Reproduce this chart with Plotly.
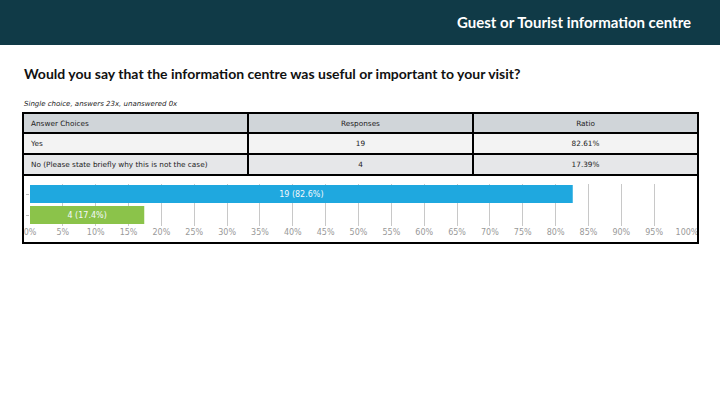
import plotly.graph_objects as go

W, H = 720, 405

header_title = "Guest or Tourist information centre"
question = "Would you say that the information centre was useful or important to your visit?"
subtitle = "Single choice, answers 23x, unanswered 0x"

col_headers = ["Answer Choices", "Responses", "Ratio"]
choices = ["Yes", "No (Please state briefly why this is not the case)"]
responses = [19, 4]
ratios = [82.61, 17.39]
bar_colors = ["#1fa8df", "#8bc34a"]
tick_vals = list(range(0, 101, 5))


def px_x(v):
    return v / W


def px_y(v):
    return 1 - v / H


fig = go.Figure()

# Table
fig.add_trace(go.Table(
    domain=dict(x=[px_x(23), px_x(698)], y=[px_y(177), px_y(113)]),
    columnwidth=[1, 1, 1],
    header=dict(
        values=col_headers,
        fill_color="#d0d5d9",
        line=dict(color="#000000", width=2),
        align=["left", "center", "center"],
        font=dict(family="DejaVu Sans", size=7.3, color="#222222"),
        height=20,
    ),
    cells=dict(
        values=[choices, [str(r) for r in responses], [f"{r:.2f}%" for r in ratios]],
        fill_color=[["#f3f3f3", "#e6e7e9"]] * 3,
        line=dict(color="#000000", width=2),
        align=["left", "center", "center"],
        font=dict(family="DejaVu Sans", size=7.3, color="#222222"),
        height=21,
    ),
))

# Bars
labels = [f"{n} ({r:.1f}%)" for n, r in zip(responses, ratios)]
fig.add_trace(go.Bar(
    y=choices,
    x=ratios,
    orientation="h",
    marker=dict(color=bar_colors, line=dict(width=0)),
    text=labels,
    textposition="inside",
    insidetextanchor="middle",
    textfont=dict(family="DejaVu Sans", size=8, color="#f4f8fb"),
    hoverinfo="skip",
))

fig.update_layout(
    width=W, height=H,
    autosize=False,
    margin=dict(l=0, r=0, t=0, b=0, pad=0),
    paper_bgcolor="#ffffff",
    plot_bgcolor="#ffffff",
    showlegend=False,
    bargap=0.143,
    xaxis=dict(
        domain=[px_x(30), px_x(687)],
        range=[0, 100],
        tickvals=tick_vals,
        ticktext=[f"{v}%" for v in tick_vals],
        showgrid=True, gridcolor="#c8c8c8", gridwidth=1,
        zeroline=False, showline=False, automargin=False,
        ticks="", tickfont=dict(family="DejaVu Sans", size=8, color="#999999"),
        fixedrange=True,
    ),
    yaxis=dict(
        domain=[px_y(225.5), px_y(183.5)],
        autorange="reversed",
        showticklabels=False, automargin=False,
        ticks="outside", ticklen=3, tickcolor="#bbbbbb",
        showgrid=False, zeroline=False, showline=False,
        fixedrange=True,
    ),
    shapes=[
        dict(type="rect", xref="paper", yref="paper",
             x0=0, x1=1, y0=px_y(45), y1=1,
             fillcolor="#103a47", line=dict(width=0), layer="below"),
        dict(type="rect", xref="paper", yref="paper",
             x0=px_x(23), x1=px_x(698), y0=px_y(243), y1=px_y(175),
             line=dict(color="#000000", width=2), fillcolor="rgba(0,0,0,0)"),
    ],
    annotations=[
        dict(text=f"<b>{header_title}</b>", xref="paper", yref="paper",
             x=px_x(693), y=px_y(22), xanchor="right", yanchor="middle",
             showarrow=False, font=dict(family="Lato", size=15, color="#ffffff")),
        dict(text=f"<b>{question}</b>", xref="paper", yref="paper",
             x=px_x(22), y=px_y(73), xanchor="left", yanchor="middle",
             showarrow=False, font=dict(family="Lato", size=14, color="#111111")),
        dict(text=f"<i>{subtitle}</i>", xref="paper", yref="paper",
             x=px_x(22), y=px_y(104), xanchor="left", yanchor="middle",
             showarrow=False, font=dict(family="DejaVu Sans", size=7, color="#222222")),
    ],
)

fig.write_html(
    "out.html",
    config={"displayModeBar": False, "responsive": False},
    post_script=(
        "document.documentElement.style.margin='0';"
        "document.documentElement.style.overflow='hidden';"
        "document.body.style.margin='0';"
        "document.body.style.padding='0';"
        "document.body.style.overflow='hidden';"
    ),
)
